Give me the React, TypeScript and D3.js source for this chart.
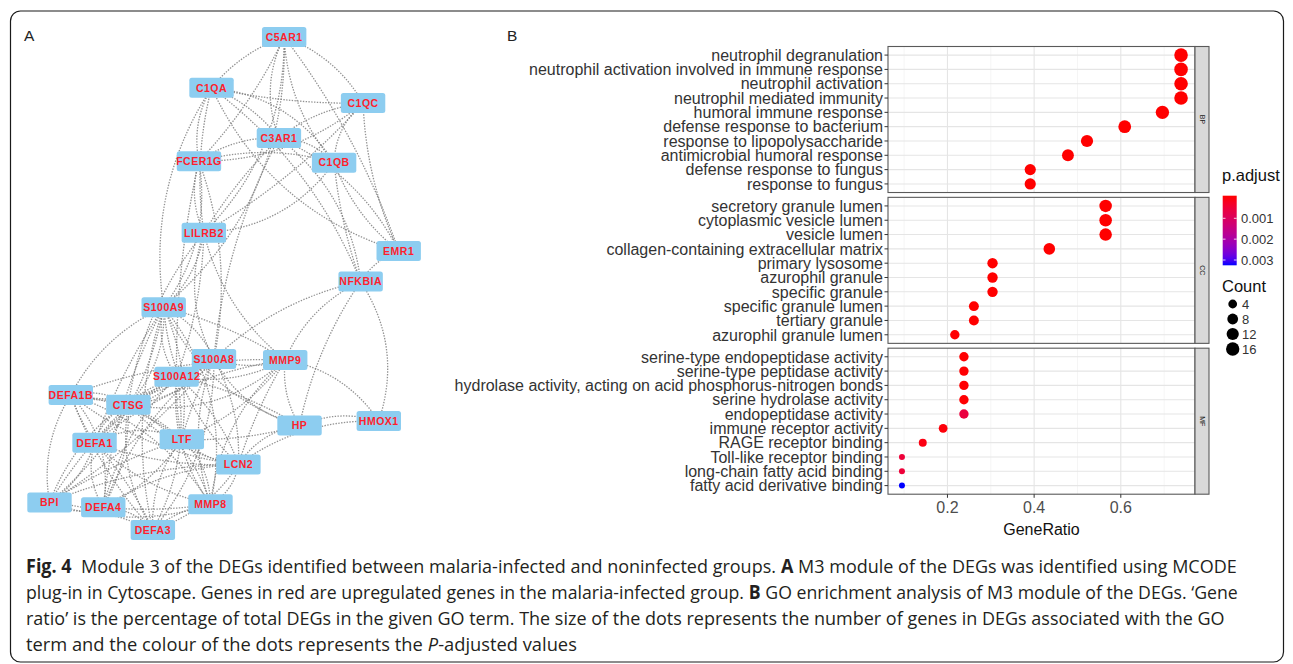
import React from "react";
import * as d3 from "d3";

const WIDTH = 1293;
const HEIGHT = 664;

// ---------------- Panel A: network (layout units 0..100) ----------------
const geneNames = ["C5AR1","C1QA","C1QC","C3AR1","FCER1G","C1QB","LILRB2","EMR1","NFKBIA","S100A9","S100A8","MMP9","S100A12","DEFA1B","CTSG","HP","HMOX1","DEFA1","LTF","LCN2","BPI","DEFA4","MMP8","DEFA3"];
const geneLayoutX = [67.2,46.4,89.8,65.7,42.8,81.5,44.2,100,89.1,32.7,47.1,67.5,36.4,6.1,22.6,71.6,94.3,12.9,37.9,54.1,0,15.4,46.1,29.6];
const geneLayoutY = [0,10.3,13.4,20.5,25.2,25.5,39.7,43.4,49.6,54.8,65.3,65.5,68.9,72.6,74.6,78.8,77.9,82.3,81.6,86.7,94.4,95.4,94.8,100];

const interactions: [string, string][] = [
  ["C5AR1","C1QA"],["C5AR1","C1QC"],["C5AR1","C3AR1"],["C5AR1","FCER1G"],["C5AR1","C1QB"],["C5AR1","LILRB2"],
  ["C1QA","C1QC"],["C1QA","C3AR1"],["C1QA","FCER1G"],["C1QA","C1QB"],["C1QA","LILRB2"],
  ["C1QC","C3AR1"],["C1QC","FCER1G"],["C1QC","C1QB"],["C1QC","LILRB2"],
  ["C3AR1","FCER1G"],["C3AR1","C1QB"],["C3AR1","LILRB2"],
  ["FCER1G","C1QB"],["FCER1G","LILRB2"],["C1QB","LILRB2"],
  ["C1QC","EMR1"],["C1QB","EMR1"],["C3AR1","EMR1"],["C1QA","EMR1"],["C5AR1","EMR1"],["EMR1","NFKBIA"],
  ["C3AR1","NFKBIA"],["C1QB","NFKBIA"],["C1QA","NFKBIA"],["NFKBIA","MMP9"],["NFKBIA","HMOX1"],["NFKBIA","HP"],["NFKBIA","S100A8"],
  ["LILRB2","S100A9"],["LILRB2","S100A8"],["LILRB2","S100A12"],["LILRB2","MMP9"],["FCER1G","S100A9"],["FCER1G","S100A12"],
  ["FCER1G","S100A8"],["C1QA","S100A9"],["C5AR1","S100A9"],["C3AR1","S100A8"],["LILRB2","CTSG"],
  ["S100A9","S100A8"],["S100A9","S100A12"],["S100A9","MMP9"],["S100A9","DEFA1B"],["S100A9","CTSG"],["S100A9","DEFA1"],
  ["S100A9","LTF"],["S100A9","LCN2"],["S100A9","MMP8"],["S100A9","DEFA4"],["S100A9","DEFA3"],["S100A9","BPI"],["S100A9","HP"],
  ["S100A8","S100A12"],["S100A8","MMP9"],["S100A8","CTSG"],["S100A8","LTF"],["S100A8","LCN2"],["S100A8","MMP8"],
  ["S100A8","DEFA1B"],["S100A8","DEFA1"],["S100A8","DEFA4"],["S100A8","DEFA3"],["S100A8","HP"],["S100A8","BPI"],
  ["S100A12","MMP9"],["S100A12","CTSG"],["S100A12","LTF"],["S100A12","LCN2"],["S100A12","MMP8"],["S100A12","DEFA1B"],
  ["S100A12","DEFA1"],["S100A12","DEFA4"],["S100A12","DEFA3"],["S100A12","BPI"],["S100A12","HP"],
  ["MMP9","HP"],["MMP9","HMOX1"],["MMP9","LCN2"],["MMP9","LTF"],["MMP9","MMP8"],["MMP9","CTSG"],["MMP9","DEFA1B"],["MMP9","DEFA1"],
  ["HP","HMOX1"],["HP","LCN2"],["HP","LTF"],["HMOX1","LCN2"],
  ["DEFA1B","CTSG"],["DEFA1B","DEFA1"],["DEFA1B","LTF"],["DEFA1B","BPI"],["DEFA1B","DEFA4"],["DEFA1B","DEFA3"],["DEFA1B","LCN2"],["DEFA1B","MMP8"],
  ["CTSG","DEFA1"],["CTSG","LTF"],["CTSG","LCN2"],["CTSG","MMP8"],["CTSG","BPI"],["CTSG","DEFA4"],["CTSG","DEFA3"],
  ["DEFA1","LTF"],["DEFA1","LCN2"],["DEFA1","MMP8"],["DEFA1","BPI"],["DEFA1","DEFA4"],["DEFA1","DEFA3"],
  ["LTF","LCN2"],["LTF","MMP8"],["LTF","BPI"],["LTF","DEFA4"],["LTF","DEFA3"],
  ["LCN2","MMP8"],["LCN2","BPI"],["LCN2","DEFA4"],["LCN2","DEFA3"],
  ["BPI","DEFA4"],["BPI","DEFA3"],["BPI","MMP8"],["DEFA4","DEFA3"],["DEFA4","MMP8"],["DEFA3","MMP8"],
];
const edgeBends = [0.14, -0.18, 0.22, -0.08, 0.17, -0.21, 0.06, -0.14, 0.19, -0.24, 0.1];

// ---------------- Panel B: GO dot plot ----------------
const ontologies = ["BP", "CC", "MF"];

const bpTerms = ["neutrophil degranulation","neutrophil activation involved in immune response","neutrophil activation","neutrophil mediated immunity","humoral immune response","defense response to bacterium","response to lipopolysaccharide","antimicrobial humoral response","defense response to fungus","response to fungus"];
const bpRatio = [0.739,0.739,0.739,0.739,0.696,0.609,0.522,0.478,0.391,0.391];
const bpCount = [17,17,17,17,16,14,12,11,9,9];
const bpPadj = [1e-12,1e-12,1e-12,1e-12,1e-11,1e-9,1e-8,1e-9,1e-9,1e-9];

const ccTerms = ["secretory granule lumen","cytoplasmic vesicle lumen","vesicle lumen","collagen-containing extracellular matrix","primary lysosome","azurophil granule","specific granule","specific granule lumen","tertiary granule","azurophil granule lumen"];
const ccRatio = [0.565,0.565,0.565,0.435,0.304,0.304,0.304,0.261,0.261,0.217];
const ccCount = [13,13,13,10,7,7,7,6,6,5];
const ccPadj = [1e-11,1e-11,1e-11,1e-7,1e-7,1e-7,1e-7,1e-6,1e-6,1e-5];

const mfTerms = ["serine-type endopeptidase activity","serine-type peptidase activity","hydrolase activity, acting on acid phosphorus-nitrogen bonds","serine hydrolase activity","endopeptidase activity","immune receptor activity","RAGE receptor binding","Toll-like receptor binding","long-chain fatty acid binding","fatty acid derivative binding"];
const mfRatio = [0.238,0.238,0.238,0.238,0.238,0.190,0.143,0.095,0.095,0.095];
const mfCount = [5,5,5,5,5,4,3,2,2,2];
const mfPadj = [1e-5,1e-5,1e-5,1e-5,0.00058,5e-5,1e-4,0.0005,0.0005,0.00317];

const padjBreaks = [0.001, 0.002, 0.003];
const countBreaks = [4, 8, 12, 16];
const ratioBreaks = [0.2, 0.4, 0.6];

// caption (segments: text, weight, style)
type Seg = [string, string, string];
const captionLines: Seg[][] = [
  [["Fig. 4", "bold", "normal"], ["  Module 3 of the DEGs identified between malaria-infected and noninfected groups. ", "normal", "normal"], ["A", "bold", "normal"], [" M3 module of the DEGs was identified using MCODE", "normal", "normal"]],
  [["plug-in in Cytoscape. Genes in red are upregulated genes in the malaria-infected group. ", "normal", "normal"], ["B", "bold", "normal"], [" GO enrichment analysis of M3 module of the DEGs. \u2018Gene", "normal", "normal"]],
  [["ratio\u2019 is the percentage of total DEGs in the given GO term. The size of the dots represents the number of genes in DEGs associated with the GO", "normal", "normal"]],
  [["term and the colour of the dots represents the ", "normal", "normal"], ["P", "normal", "italic"], ["-adjusted values", "normal", "normal"]],
];
const captionWidths = [1211, 1212, 1199, 551];

const FONT = "'Liberation Sans', Arial, Helvetica, sans-serif";
const CAP_FONT = "'Open Sans'";
const CAP_SIZE = 19;

let measureCtx: CanvasRenderingContext2D | null = null;
function measure(text: string, weight: string, style: string): number {
  if (!measureCtx && typeof document !== "undefined") {
    measureCtx = document.createElement("canvas").getContext("2d");
  }
  if (!measureCtx) return text.length * CAP_SIZE * 0.5;
  measureCtx.font = `${style} ${weight} ${CAP_SIZE}px ${CAP_FONT}, sans-serif`;
  return measureCtx.measureText(text).width;
}

export default function App() {
  // ---------- network geometry ----------
  const xNet = d3.scaleLinear().domain([0, 100]).range([49.5, 398.7]);
  const yNet = d3.scaleLinear().domain([0, 100]).range([37, 530]);
  const nodePos = new Map<string, [number, number]>();
  geneNames.forEach((g, i) => nodePos.set(g, [xNet(geneLayoutX[i]), yNet(geneLayoutY[i])]));

  const edgePaths = interactions.map(([a, b], i) => {
    const [x1, y1] = nodePos.get(a)!;
    const [x2, y2] = nodePos.get(b)!;
    const dx = x2 - x1, dy = y2 - y1;
    const len = Math.hypot(dx, dy) || 1;
    const k = edgeBends[i % edgeBends.length] * len;
    const cx = (x1 + x2) / 2 + (-dy / len) * k;
    const cy = (y1 + y2) / 2 + (dx / len) * k;
    const p = d3.path();
    p.moveTo(x1, y1);
    p.quadraticCurveTo(cx, cy, x2, y2);
    return p.toString();
  });

  // ---------- dot plot ----------
  const facetData = [
    { name: ontologies[0], terms: bpTerms, ratio: bpRatio, count: bpCount, padj: bpPadj },
    { name: ontologies[1], terms: ccTerms, ratio: ccRatio, count: ccCount, padj: ccPadj },
    { name: ontologies[2], terms: mfTerms, ratio: mfRatio, count: mfCount, padj: mfPadj },
  ];
  const allRatio = [...bpRatio, ...ccRatio, ...mfRatio];
  const allCount = [...bpCount, ...ccCount, ...mfCount];
  const allPadj = [...bpPadj, ...ccPadj, ...mfPadj];
  const [rMin, rMax] = d3.extent(allRatio) as [number, number];
  const exp = (rMax - rMin) * 0.05;
  const panelL = 888, panelR = 1195, stripR = 1209;
  const x = d3.scaleLinear().domain([rMin - exp, rMax + exp]).range([panelL, panelR]);
  const facetBand = d3.scaleBand<string>().domain(ontologies).range([46.5, 494.2]).paddingInner(0.032);
  const [cMin, cMax] = d3.extent(allCount) as [number, number];
  const rootScale = d3.scaleLinear().domain([0, Math.sqrt(cMax - cMin)]).range([3, 6.8]);
  const radius = (c: number) => rootScale(Math.sqrt(Math.max(0, c - cMin)));
  const [pMin, pMax] = d3.extent(allPadj) as [number, number];
  const color = d3.scaleLinear<string>().domain([pMin, pMax]).range(["#ff0000", "#0000ff"]).interpolate(d3.interpolateLab);

  const minorBreaks = Array.from(new Set(ratioBreaks.flatMap((b) => [b - 0.1, b + 0.1]).map((v) => Math.round(v * 10) / 10)))
    .filter((v) => v >= x.domain()[0] && v <= x.domain()[1]);

  // legend
  const barTop = 195.7, barH = 69.6, barX = 1222.7, barW = 14;
  const half = barH * 0.5 / 20;
  const barScale = d3.scaleLinear().domain([pMin, pMax]).range([barTop + half, barTop + barH - half]);
  const gradStops = d3.range(0, 21).map((i) => i / 20);
  const countKeyY = d3.scalePoint<number>().domain(countBreaks).range([304, 349]);

  // caption layout
  const captionBaselines = d3.range(captionLines.length).map((i) => 573 + i * 26);
  const captionLayout = captionLines.map((segs, li) => {
    const widths = segs.map(([t, w, s]) => measure(t, w, s));
    const total = d3.sum(widths);
    const scale = captionWidths[li] / total;
    let cum = 0;
    const items = segs.map(([t, w, s], si) => {
      const lead = t.length - t.trimStart().length;
      const offset = cum + (lead > 0 ? measure(t.slice(0, lead), w, s) : 0);
      cum += widths[si];
      return { text: t.trim(), weight: w, style: s, x: offset };
    });
    return { scale, items, y: captionBaselines[li] };
  });

  return (
    <svg width={WIDTH} height={HEIGHT} style={{ position: "absolute", left: 0, top: 0, display: "block", background: "#fff" }}>
      <defs>
        <linearGradient id="padjGrad" x1="0" y1="0" x2="0" y2="1">
          {gradStops.map((t) => (
            <stop key={t} offset={`${t * 100}%`} stopColor={color(Math.max(pMin, Math.min(pMax, barScale.invert(barTop + t * barH))))} />
          ))}
        </linearGradient>
      </defs>
      <rect x={0} y={0} width={WIDTH} height={HEIGHT} fill="#fff" />
      {/* frame */}
      <rect x={10.5} y={11} width={1273} height={651} rx={10} ry={10} fill="none" stroke="#1a1a1a" strokeWidth={1.2} />

      {/* panel labels */}
      <text x={24} y={41} fontFamily={FONT} fontSize={15.5} fill="#222">A</text>
      <text x={507} y={41} fontFamily={FONT} fontSize={15.5} fill="#222">B</text>

      {/* ---------- network ---------- */}
      <g>
        {edgePaths.map((d, i) => (
          <path key={i} d={d} fill="none" stroke="#7f7f7f" strokeWidth={1.3} strokeDasharray="1.4 1.4" opacity={0.85} />
        ))}
        {geneNames.map((g) => {
          const [cx, cy] = nodePos.get(g)!;
          return (
            <g key={g} transform={`translate(${cx},${cy})`}>
              <rect x={-22.2} y={-10} width={44.4} height={20} rx={2.5} fill="#8dcdf0" />
              <text textAnchor="middle" dy="0.36em" fontFamily={FONT} fontWeight="bold" fontSize={10.5} letterSpacing={0.5} fill="#ff1f2d">{g}</text>
            </g>
          );
        })}
      </g>

      {/* ---------- dot plot ---------- */}
      {facetData.map((f) => {
        const top = facetBand(f.name)!;
        const bw = facetBand.bandwidth();
        const y = d3.scalePoint<string>().domain(f.terms).range([top, top + bw]).padding(0.6);
        return (
          <g key={f.name}>
            <rect x={panelL} y={top} width={panelR - panelL} height={bw} fill="#fff" />
            {minorBreaks.map((b) => (
              <line key={"mn" + b} x1={x(b)} x2={x(b)} y1={top} y2={top + bw} stroke="#f0f0f0" strokeWidth={0.7} />
            ))}
            {ratioBreaks.map((b) => (
              <line key={"mj" + b} x1={x(b)} x2={x(b)} y1={top} y2={top + bw} stroke="#e5e5e5" strokeWidth={1.1} />
            ))}
            {f.terms.map((t) => (
              <line key={"h" + t} x1={panelL} x2={panelR} y1={y(t)} y2={y(t)} stroke="#e5e5e5" strokeWidth={1.1} />
            ))}
            {f.terms.map((t, i) => (
              <circle key={"c" + t} cx={x(f.ratio[i])} cy={y(t)} r={radius(f.count[i])} fill={color(f.padj[i])} />
            ))}
            <rect x={panelL} y={top} width={panelR - panelL} height={bw} fill="none" stroke="#5a5a5a" strokeWidth={1.1} />
            {/* strip */}
            <rect x={panelR} y={top} width={stripR - panelR} height={bw} fill="#d9d9d9" stroke="#5a5a5a" strokeWidth={1.1} />
            <text transform={`translate(${(panelR + stripR) / 2},${top + bw / 2}) rotate(90)`} textAnchor="middle" dy="0.35em"
              fontFamily={FONT} fontSize={7} fill="#1a1a1a">{f.name}</text>
            {/* y axis */}
            {f.terms.map((t) => (
              <g key={"yl" + t}>
                <line x1={884.5} x2={panelL} y1={y(t)} y2={y(t)} stroke="#333" strokeWidth={1} />
                <text x={883} y={y(t)} dy="0.36em" textAnchor="end" fontFamily={FONT} fontSize={16} fill="#333">{t}</text>
              </g>
            ))}
          </g>
        );
      })}
      {/* x axis */}
      {ratioBreaks.map((b) => (
        <g key={"xt" + b}>
          <line x1={x(b)} x2={x(b)} y1={494.2} y2={497.8} stroke="#333" strokeWidth={1} />
          <text x={x(b)} y={512.5} textAnchor="middle" fontFamily={FONT} fontSize={16} fill="#4d4d4d">{b.toFixed(1)}</text>
        </g>
      ))}
      <text x={(panelL + panelR) / 2} y={535} textAnchor="middle" fontFamily={FONT} fontSize={16} fill="#111">GeneRatio</text>

      {/* legend: p.adjust */}
      <text x={1222} y={181} fontFamily={FONT} fontSize={16.5} fill="#111">p.adjust</text>
      <rect x={barX} y={barTop} width={barW} height={barH} fill="url(#padjGrad)" />
      {padjBreaks.map((b) => (
        <g key={"pb" + b}>
          <line x1={barX} x2={barX + 2.8} y1={barScale(b)} y2={barScale(b)} stroke="#fff" strokeWidth={0.8} />
          <line x1={barX + barW - 2.8} x2={barX + barW} y1={barScale(b)} y2={barScale(b)} stroke="#fff" strokeWidth={0.8} />
          <text x={1241} y={barScale(b)} dy="0.36em" fontFamily={FONT} fontSize={13} fill="#333">{b.toFixed(3)}</text>
        </g>
      ))}
      {/* legend: Count */}
      <text x={1222} y={292} fontFamily={FONT} fontSize={16.5} fill="#111">Count</text>
      {countBreaks.map((c) => (
        <g key={"cb" + c}>
          <circle cx={1232.7} cy={countKeyY(c)!} r={radius(c)} fill="#000" />
          <text x={1242} y={countKeyY(c)!} dy="0.36em" fontFamily={FONT} fontSize={13} fill="#333">{c}</text>
        </g>
      ))}

      {/* ---------- caption ---------- */}
      {captionLayout.map((line, li) => (
        <g key={"cap" + li} transform={`translate(26,${line.y}) scale(${line.scale},1)`}
          fontFamily={`${CAP_FONT}, 'Noto Sans', sans-serif`} fontSize={CAP_SIZE} fill="#231f20">
          {line.items.map((it, si) => (
            <text key={si} x={it.x} y={0} fontWeight={it.weight} fontStyle={it.style}>{it.text}</text>
          ))}
        </g>
      ))}
    </svg>
  );
}
